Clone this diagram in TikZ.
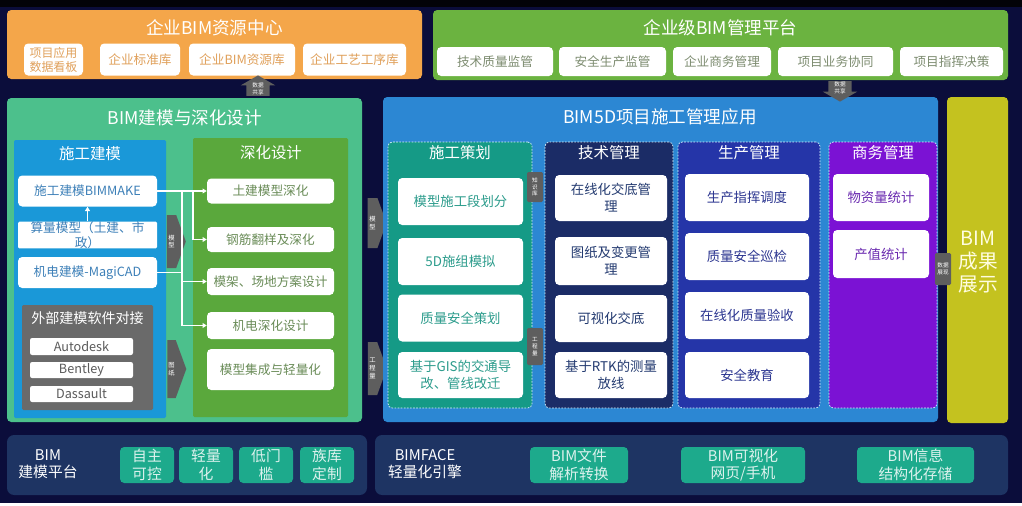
\documentclass[tikz,border=0pt]{standalone}
\usepackage{fontspec}
\setmainfont{Noto Sans CJK SC}
\usepackage{xcolor}
\usepackage{tikz}
\usetikzlibrary{shapes.arrows, shapes.symbols, arrows.meta, positioning}
\definecolor{bgNavy}{HTML}{0B0D3B}
\definecolor{bgBlack}{HTML}{030308}
\definecolor{resOrange}{HTML}{F4A64A}
\definecolor{resText}{HTML}{E0A05A}
\definecolor{mgmtGreen}{HTML}{6BB340}
\definecolor{mgmtText}{HTML}{7D8C70}
\definecolor{mintGreen}{HTML}{4CC08C}
\definecolor{buildBlue}{HTML}{1A98D8}
\definecolor{buildText}{HTML}{3D80B8}
\definecolor{deepGreen}{HTML}{5AA83C}
\definecolor{deepText}{HTML}{6A8C58}
\definecolor{extGray}{HTML}{6A6A6A}
\definecolor{extText}{HTML}{5A5A5A}
\definecolor{arrowGray}{HTML}{5E5E5E}
\definecolor{bimBlue}{HTML}{2C87D3}
\definecolor{planTeal}{HTML}{159A86}
\definecolor{planText}{HTML}{2C9C8C}
\definecolor{techNavy}{HTML}{1B2C66}
\definecolor{techText}{HTML}{233A70}
\definecolor{prodBlue}{HTML}{2535A8}
\definecolor{prodText}{HTML}{2B3590}
\definecolor{bizPurple}{HTML}{7B12D4}
\definecolor{bizText}{HTML}{6A2AB0}
\definecolor{showYellow}{HTML}{C4C21F}
\definecolor{bottomNavy}{HTML}{1E3463}
\definecolor{bottomTeal}{HTML}{1DAA8C}
\newlength\px
\setlength\px{0.025cm}

\begin{document}
\begin{tikzpicture}[x=0.025cm, y=-0.025cm,
    panel/.style={rectangle, rounded corners=3pt, inner sep=0pt},
    dashpanel/.style={panel, draw=white!85!cyan, dash pattern=on 1.2pt off 1pt, line width=0.5pt},
    wbox/.style={rectangle, rounded corners=3pt, fill=white, inner sep=0pt, align=center,
    font=\fontsize{9}{11.5}\selectfont},
    headtext/.style={text=white, inner sep=0pt, font=\fontsize{12.5}{14}\selectfont},
    subtext/.style={text=white, inner sep=0pt, font=\fontsize{11}{13}\selectfont},
    blockarrow/.style={signal, signal to=east, signal pointer angle=140, fill=arrowGray,
    text=white, inner sep=0pt, align=center, font=\fontsize{4.5}{5.5}\selectfont},
    sharearrow/.style={single arrow, fill=arrowGray, text=white, align=center,
    inner xsep=4pt, inner ysep=0.5pt, single arrow head extend=4pt,
    single arrow tip angle=120, minimum height=19\px, font=\fontsize{4}{4.8}\selectfont},
    tagbox/.style={rectangle, rounded corners=1pt, fill=arrowGray, text=white, inner sep=0pt,
    align=center, font=\fontsize{4}{4.8}\selectfont},
    link/.style={white, line width=0.8pt},
    linkarrow/.style={link, -{Triangle[length=3pt, width=3.5pt]}},
    tealbox/.style={rectangle, rounded corners=3pt, fill=bottomTeal, text=white!85!bottomTeal,
    inner sep=0pt, align=center, font=\fontsize{10.5}{12.5}\selectfont},
    bottext/.style={text=white, inner sep=0pt, align=center, font=\fontsize{10.5}{12.5}\selectfont}
]
\useasboundingbox (0,0) rectangle (1022,506);
\fill[bgNavy] (0,0) rectangle (1022,506);
\fill[bgBlack] (0,0) rectangle (1022,7);
\fill[white] (0,503) rectangle (1022,506);

% enterprise BIM resource centre
\node[panel, fill=resOrange, minimum width=415\px, minimum height=69\px] (res) at (214.5,44.5) {};
\node[headtext] (resTitle) at (214.5,28) {企业BIM资源中心};
\node[wbox, text=resText, minimum width=59\px, minimum height=32\px, font=\fontsize{8.5}{10}\selectfont] (res1) at (53.5,59.5) {项目应用\\数据看板};
\node[wbox, text=resText, minimum width=80\px, minimum height=32\px] (res2) at (140,59.5) {企业标准库};
\node[wbox, text=resText, minimum width=106\px, minimum height=32\px] (res3) at (242,59.5) {企业BIM资源库};
\node[wbox, text=resText, minimum width=103\px, minimum height=32\px] (res4) at (354.5,59.5) {企业工艺工序库};

% enterprise BIM management platform
\node[panel, fill=mgmtGreen, minimum width=575\px, minimum height=70\px] (mgmt) at (720.5,45) {};
\node[headtext] (mgmtTitle) at (720.5,28) {企业级BIM管理平台};
\node[wbox, text=mgmtText, minimum width=116\px, minimum height=29\px] (mg1) at (495,61.5) {技术质量监管};
\node[wbox, text=mgmtText, minimum width=107\px, minimum height=29\px] (mg2) at (612.5,61.5) {安全生产监管};
\node[wbox, text=mgmtText, minimum width=98\px, minimum height=29\px] (mg3) at (722,61.5) {企业商务管理};
\node[wbox, text=mgmtText, minimum width=115\px, minimum height=29\px] (mg4) at (835.5,61.5) {项目业务协同};
\node[wbox, text=mgmtText, minimum width=103\px, minimum height=29\px] (mg5) at (951.5,61.5) {项目指挥决策};

% BIM modelling and detailing
\node[panel, fill=mintGreen, minimum width=355\px, minimum height=324\px] (model) at (184.5,260) {};
\node[headtext] (modelTitle) at (185,118) {BIM建模与深化设计};

% construction modelling
\node[panel, rounded corners=1pt, fill=buildBlue, minimum width=152\px, minimum height=278\px] (build) at (90,279) {};
\node[subtext] (buildTitle) at (90,154) {施工建模};
\node[wbox, text=buildText, minimum width=139\px, minimum height=31\px] (m1) at (87.5,191) {施工建模BIMMAKE};
\node[wbox, rounded corners=1pt, text=buildText, minimum width=139\px, minimum height=26\px, font=\fontsize{9}{10.5}\selectfont] (m2) at (87.5,235) {算量模型（土建、市\\政）};
\node[wbox, text=buildText, minimum width=139\px, minimum height=31\px] (m3) at (87.5,272.5) {机电建模-MagiCAD};
\node[panel, rounded corners=1pt, fill=extGray, minimum width=131\px, minimum height=105\px] (ext) at (87.5,357.5) {};
\node[text=white, inner sep=0pt, font=\fontsize{10}{12}\selectfont] (extTitle) at (87.5,318) {外部建模软件对接};
\node[wbox, rounded corners=1.5pt, text=extText, minimum width=103\px, minimum height=17\px] (e1) at (81.5,346.5) {Autodesk};
\node[wbox, rounded corners=1.5pt, text=extText, minimum width=103\px, minimum height=16\px] (e2) at (81.5,370) {Bentley};
\node[wbox, rounded corners=1.5pt, text=extText, minimum width=103\px, minimum height=16\px] (e3) at (81.5,394) {Dassault};

% detailing design
\node[panel, rounded corners=1pt, fill=deepGreen, minimum width=155\px, minimum height=279\px] (deep) at (270.5,277.5) {};
\node[subtext] (deepTitle) at (271,153) {深化设计};
\node[wbox, text=deepText, minimum width=127\px, minimum height=25\px] (d1) at (270.5,191) {土建模型深化};
\node[wbox, text=deepText, minimum width=127\px, minimum height=25\px] (d2) at (270.5,239.5) {钢筋翻样及深化};
\node[wbox, text=deepText, minimum width=127\px, minimum height=27\px] (d3) at (270.5,281.5) {模架、场地方案设计};
\node[wbox, text=deepText, minimum width=127\px, minimum height=27\px] (d4) at (270.5,325.5) {机电深化设计};
\node[wbox, text=deepText, minimum width=127\px, minimum height=41\px] (d5) at (270.5,369.5) {模型集成与轻量化};

\node[blockarrow, minimum width=19\px, minimum height=53\px] (a1) at (171.5,241.5) {模\\型};
\node[blockarrow, minimum width=19\px, minimum height=58\px] (a2) at (171.5,369) {图\\纸};

\coordinate (j1) at (193,191);
\coordinate (j2) at (182,191);
\draw[linkarrow] (m2.north) -- (m1.south);
\draw[linkarrow] (m1.east) -- (d1.west);
\draw[linkarrow] (j1) |- (d2.west);
\draw[linkarrow] (j2) |- (d4.west);
\draw[linkarrow] (j2 |- d3.west) -- (d3.west);
\draw[link] (m3.east) -- (j2 |- m3.east);

\node[blockarrow, minimum width=19\px, minimum height=50\px] (a3) at (372.5,223) {模\\型};
\node[blockarrow, minimum width=19\px, minimum height=53\px] (a4) at (372.5,368.5) {工\\程\\量};

% BIM5D construction management
\node[panel, fill=bimBlue, minimum width=555\px, minimum height=325\px] (bim5d) at (660.5,259.5) {};
\node[headtext] (bim5dTitle) at (660,117) {BIM5D项目施工管理应用};

\node[dashpanel, fill=planTeal, minimum width=144\px, minimum height=266\px] (plan) at (460,275) {};
\node[subtext] (planTitle) at (460,153) {施工策划};
\node[wbox, text=planText, font=\fontsize{9.5}{12}\selectfont, minimum width=125\px, minimum height=47\px] (p1) at (460.5,201.5) {模型施工段划分};
\node[wbox, text=planText, font=\fontsize{9.5}{12}\selectfont, minimum width=125\px, minimum height=47\px] (p2) at (460.5,261.5) {5D施组模拟};
\node[wbox, text=planText, font=\fontsize{9.5}{12}\selectfont, minimum width=125\px, minimum height=47\px] (p3) at (460.5,318) {质量安全策划};
\node[wbox, text=planText, font=\fontsize{9.5}{12}\selectfont, minimum width=125\px, minimum height=46\px] (p4) at (460.5,375) {基于GIS的交通导\\改、管线改迁};

\node[dashpanel, fill=techNavy, minimum width=128\px, minimum height=266\px] (tech) at (609,275) {};
\node[subtext] (techTitle) at (609,153) {技术管理};
\node[wbox, text=techText, font=\fontsize{9.5}{12}\selectfont, minimum width=112\px, minimum height=46\px] (t1) at (611,198) {在线化交底管\\理};
\node[wbox, text=techText, font=\fontsize{9.5}{12}\selectfont, minimum width=112\px, minimum height=48\px] (t2) at (611,261) {图纸及变更管\\理};
\node[wbox, text=techText, font=\fontsize{9.5}{12}\selectfont, minimum width=112\px, minimum height=47\px] (t3) at (611,318.5) {可视化交底};
\node[wbox, text=techText, font=\fontsize{9.5}{12}\selectfont, minimum width=112\px, minimum height=46\px] (t4) at (611,375) {基于RTK的测量\\放线};

\node[dashpanel, fill=prodBlue, minimum width=142\px, minimum height=266\px] (prod) at (749,275) {};
\node[subtext] (prodTitle) at (749,153) {生产管理};
\node[wbox, text=prodText, font=\fontsize{9.5}{12}\selectfont, minimum width=124\px, minimum height=47\px] (s1) at (747,197.5) {生产指挥调度};
\node[wbox, text=prodText, font=\fontsize{9.5}{12}\selectfont, minimum width=124\px, minimum height=47\px] (s2) at (747,256.5) {质量安全巡检};
\node[wbox, text=prodText, font=\fontsize{9.5}{12}\selectfont, minimum width=124\px, minimum height=47\px] (s3) at (747,315.5) {在线化质量验收};
\node[wbox, text=prodText, font=\fontsize{9.5}{12}\selectfont, minimum width=124\px, minimum height=46\px] (s4) at (747,375) {安全教育};

\node[dashpanel, fill=bizPurple, minimum width=108\px, minimum height=266\px] (biz) at (883,275) {};
\node[subtext] (bizTitle) at (883,153) {商务管理};
\node[wbox, text=bizText, font=\fontsize{9.5}{12}\selectfont, minimum width=96\px, minimum height=47\px] (b1) at (881,197.5) {物资量统计};
\node[wbox, text=bizText, font=\fontsize{9.5}{12}\selectfont, minimum width=96\px, minimum height=48\px] (b2) at (881,254) {产值统计};

\node[tagbox, minimum width=16\px, minimum height=30\px] (k1) at (535,187) {知\\识\\库};
\node[tagbox, minimum width=16\px, minimum height=37\px] (k2) at (535,346.5) {工\\程\\量};

% BIM results display
\node[panel, fill=showYellow, minimum width=61\px, minimum height=326\px] (show) at (977.5,260) {};
\node[text=white!88!yellow, inner sep=0pt, align=center, font=\fontsize{14}{16.5}\selectfont] (showText) at (978,262) {BIM\\成果\\展示};
\node[tagbox, minimum width=16\px, minimum height=32\px] (k3) at (943,269) {数据\\展现};

% data sharing arrows
\node[sharearrow, shape border rotate=90] (up1) at (258,89) {数据\\共享};
\node[sharearrow, shape border rotate=270] (down1) at (840,88) {数据\\共享};

% platforms
\node[panel, rounded corners=5pt, fill=bottomNavy, minimum width=360\px, minimum height=60\px] (plat) at (187,465) {};
\node[bottext] (platTitle) at (48,464) {BIM\\建模平台};
\node[tealbox, minimum width=54\px, minimum height=36\px] (q1) at (147,465) {自主\\可控};
\node[tealbox, minimum width=54\px, minimum height=36\px] (q2) at (206,465) {轻量\\化};
\node[tealbox, minimum width=54\px, minimum height=36\px] (q3) at (266,465) {低门\\槛};
\node[tealbox, minimum width=54\px, minimum height=36\px] (q4) at (327,465) {族库\\定制};

\node[panel, rounded corners=5pt, fill=bottomNavy, minimum width=633\px, minimum height=60\px] (face) at (691.5,465) {};
\node[bottext] (faceTitle) at (425,464) {BIMFACE\\轻量化引擎};
\node[tealbox, minimum width=98\px, minimum height=36\px] (f1) at (579,465) {BIM文件\\解析转换};
\node[tealbox, minimum width=124\px, minimum height=36\px] (f2) at (743,465) {BIM可视化\\网页/手机};
\node[tealbox, minimum width=117\px, minimum height=36\px] (f3) at (915.5,465) {BIM信息\\结构化存储};
\end{tikzpicture}
\end{document}
